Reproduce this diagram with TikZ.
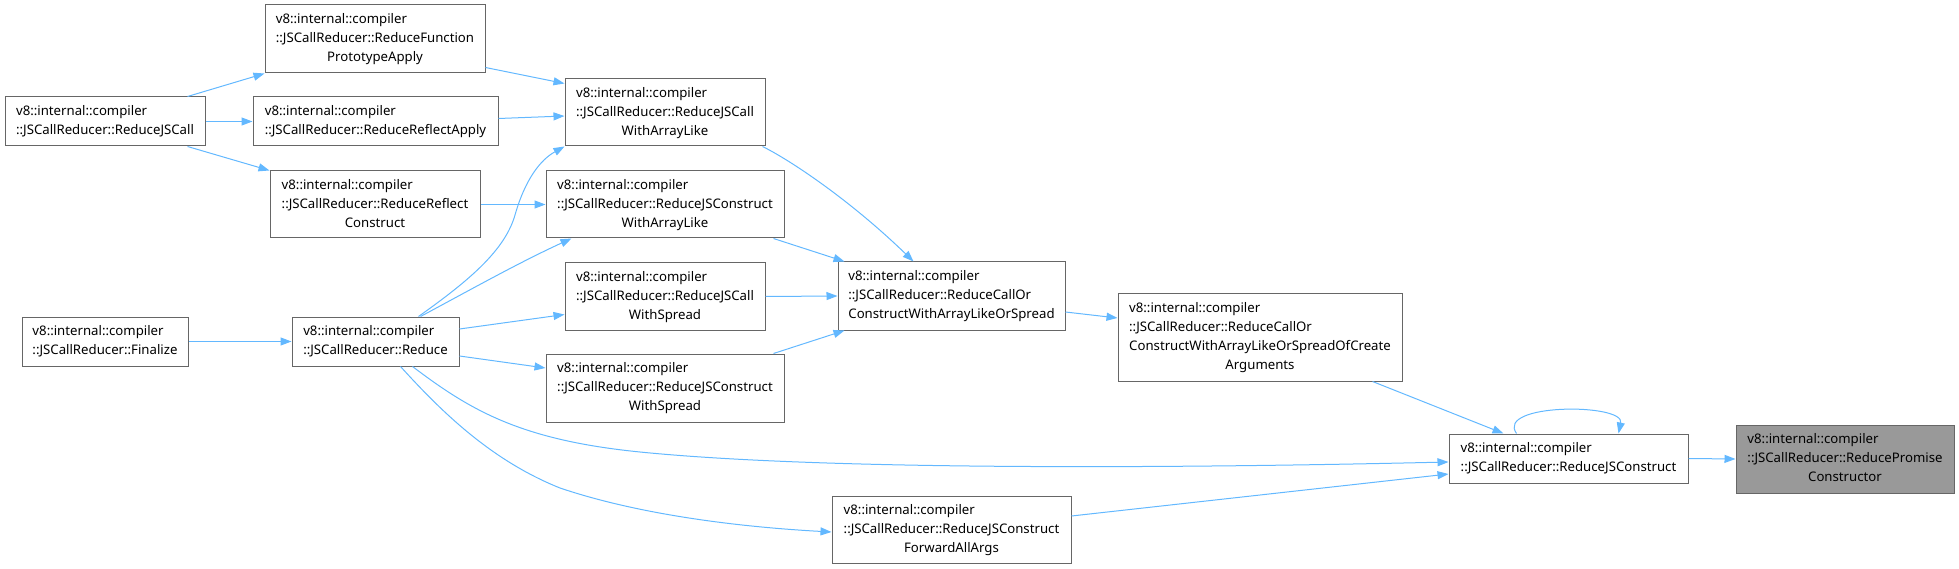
\documentclass[tikz,border=0pt]{standalone}
\usepackage{fontspec}
\setmainfont{Noto Sans}
\usetikzlibrary{arrows.meta,calc}
\definecolor{edgeblue}{HTML}{63B8FF}
\definecolor{boxgray}{HTML}{666666}
\definecolor{hifill}{HTML}{999999}
\newcommand{\ctr}[1]{\multicolumn{1}{@{}c@{}}{#1}}
\tikzset{
  box/.style={draw=boxgray, fill=white, line width=1pt, inner sep=0pt, align=left,
    font=\fontsize{13.2}{19}\selectfont},
  hibox/.style={box, fill=hifill},
  edge/.style={draw=edgeblue, line width=1pt, -{Triangle[length=11pt,width=8pt]}}
}
\begin{document}
\begin{tikzpicture}[x=1pt,y=-1pt]
\useasboundingbox (0,0) rectangle (1959,569);
\node[box, minimum width=200pt, minimum height=49pt] (jscall) at (105,121.5)
  {\begin{tabular}{@{}l@{}}v8::internal::compiler\\::JSCallReducer::ReduceJSCall\end{tabular}};
\node[box, minimum width=220pt, minimum height=68pt] (fpa) at (375,39)
  {\begin{tabular}{@{}l@{}}v8::internal::compiler\\::JSCallReducer::ReduceFunction\\\ctr{PrototypeApply}\end{tabular}};
\node[box, minimum width=245pt, minimum height=49pt] (rapply) at (375.5,121.5)
  {\begin{tabular}{@{}l@{}}v8::internal::compiler\\::JSCallReducer::ReduceReflectApply\end{tabular}};
\node[box, minimum width=210pt, minimum height=67pt] (rconstruct) at (375,204.5)
  {\begin{tabular}{@{}l@{}}v8::internal::compiler\\::JSCallReducer::ReduceReflect\\\ctr{Construct}\end{tabular}};
\node[box, minimum width=200pt, minimum height=67pt] (callal) at (665,112.5)
  {\begin{tabular}{@{}l@{}}v8::internal::compiler\\::JSCallReducer::ReduceJSCall\\\ctr{WithArrayLike}\end{tabular}};
\node[box, minimum width=238pt, minimum height=67pt] (constral) at (665,204.5)
  {\begin{tabular}{@{}l@{}}v8::internal::compiler\\::JSCallReducer::ReduceJSConstruct\\\ctr{WithArrayLike}\end{tabular}};
\node[box, minimum width=166pt, minimum height=49pt] (finalize) at (105,341.5)
  {\begin{tabular}{@{}l@{}}v8::internal::compiler\\::JSCallReducer::Finalize\end{tabular}};
\node[box, minimum width=167pt, minimum height=49pt] (reduce) at (375.5,341.5)
  {\begin{tabular}{@{}l@{}}v8::internal::compiler\\::JSCallReducer::Reduce\end{tabular}};
\node[box, minimum width=200pt, minimum height=67pt] (callsp) at (665,296.5)
  {\begin{tabular}{@{}l@{}}v8::internal::compiler\\::JSCallReducer::ReduceJSCall\\\ctr{WithSpread}\end{tabular}};
\node[box, minimum width=238pt, minimum height=68pt] (constrsp) at (665,388)
  {\begin{tabular}{@{}l@{}}v8::internal::compiler\\::JSCallReducer::ReduceJSConstruct\\\ctr{WithSpread}\end{tabular}};
\node[box, minimum width=227pt, minimum height=68pt] (callor) at (951.5,296)
  {\begin{tabular}{@{}l@{}}v8::internal::compiler\\::JSCallReducer::ReduceCallOr\\\ctr{ConstructWithArrayLikeOrSpread}\end{tabular}};
\node[box, minimum width=284pt, minimum height=87pt] (ofcreate) at (1260,337.5)
  {\begin{tabular}{@{}l@{}}v8::internal::compiler\\::JSCallReducer::ReduceCallOr\\ConstructWithArrayLikeOrSpreadOfCreate\\\ctr{Arguments}\end{tabular}};
\node[box, minimum width=239pt, minimum height=49pt] (jsconstruct) at (1568.5,458.5)
  {\begin{tabular}{@{}l@{}}v8::internal::compiler\\::JSCallReducer::ReduceJSConstruct\end{tabular}};
\node[hibox, minimum width=218pt, minimum height=68pt] (promise) at (1845,459)
  {\begin{tabular}{@{}l@{}}v8::internal::compiler\\::JSCallReducer::ReducePromise\\\ctr{Constructor}\end{tabular}};
\node[box, minimum width=239pt, minimum height=67pt] (fwd) at (951.5,529.5)
  {\begin{tabular}{@{}l@{}}v8::internal::compiler\\::JSCallReducer::ReduceJSConstruct\\\ctr{ForwardAllArgs}\end{tabular}};

% edges
\draw[edge] ($(jscall.north east)+(-18,0)$) -- (fpa.south west);
\draw[edge] (jscall.east) -- (rapply.west);
\draw[edge] ($(jscall.south east)+(-18,0)$) -- (rconstruct.north west);
\draw[edge] ($(fpa.south east)+(0,-6)$) -- ($(callal.north west)+(0,5)$);
\draw[edge] ($(rapply.east)+(0,-3)$) -- ($(callal.west)+(0,3.5)$);
\draw[edge] (rconstruct.east) -- (constral.west);
\draw[edge] (finalize.east) -- (reduce.west);
\draw[edge] ($(reduce.north east)+(-41,0)$) .. controls (470,280) and (505,250) .. (515,215)
  .. controls (525,180) and (540,160) .. (callal.south west);
\draw[edge] ($(reduce.north east)+(-39,0)$) .. controls (470,290) and (520,262) .. ($(constral.south west)+(26,0)$);
\draw[edge] ($(reduce.east)+(0,-12.5)$) -- ($(callsp.south west)+(0,-16)$);
\draw[edge] ($(reduce.east)+(0,14.5)$) -- ($(constrsp.west)+(0,-20)$);
\draw[edge] ($(reduce.south east)+(-47,0)$) .. controls (470,410) and (520,440) .. (640,452)
  .. controls (800,468) and (1100,470) .. ($(jsconstruct.west)+(0,3.5)$);
\draw[edge] ($(reduce.south east)+(-59,0)$) .. controls (440,410) and (490,460) .. (560,488)
  .. controls (640,515) and (740,527) .. ($(fwd.west)+(0,2.5)$);
\draw[edge] ($(callal.south east)+(-3,0)$) .. controls (790,160) and (850,200) .. ($(callor.north west)+(76,0)$);
\draw[edge] ($(constral.south east)+(-11,0)$) -- ($(callor.north west)+(7,0)$);
\draw[edge] (callsp.east) -- (callor.west);
\draw[edge] ($(constrsp.north east)+(-11,0)$) -- ($(callor.south west)+(7,0)$);
\draw[edge] ($(callor.east)+(0,16)$) -- ($(ofcreate.west)+(0,-19.5)$);
\draw[edge] ($(ofcreate.south east)+(-30,0)$) -- ($(jsconstruct.north west)+(55,0)$);
\draw[edge] ($(fwd.east)+(0,-13.5)$) -- ($(jsconstruct.west)+(0,15.5)$);
\draw[edge] ($(jsconstruct.north west)+(68,0)$) .. controls (1495,403) and (1625,403) .. ($(jsconstruct.north west)+(170,0)$);
\draw[edge] (jsconstruct.east) -- (promise.west);
\end{tikzpicture}
\end{document}
